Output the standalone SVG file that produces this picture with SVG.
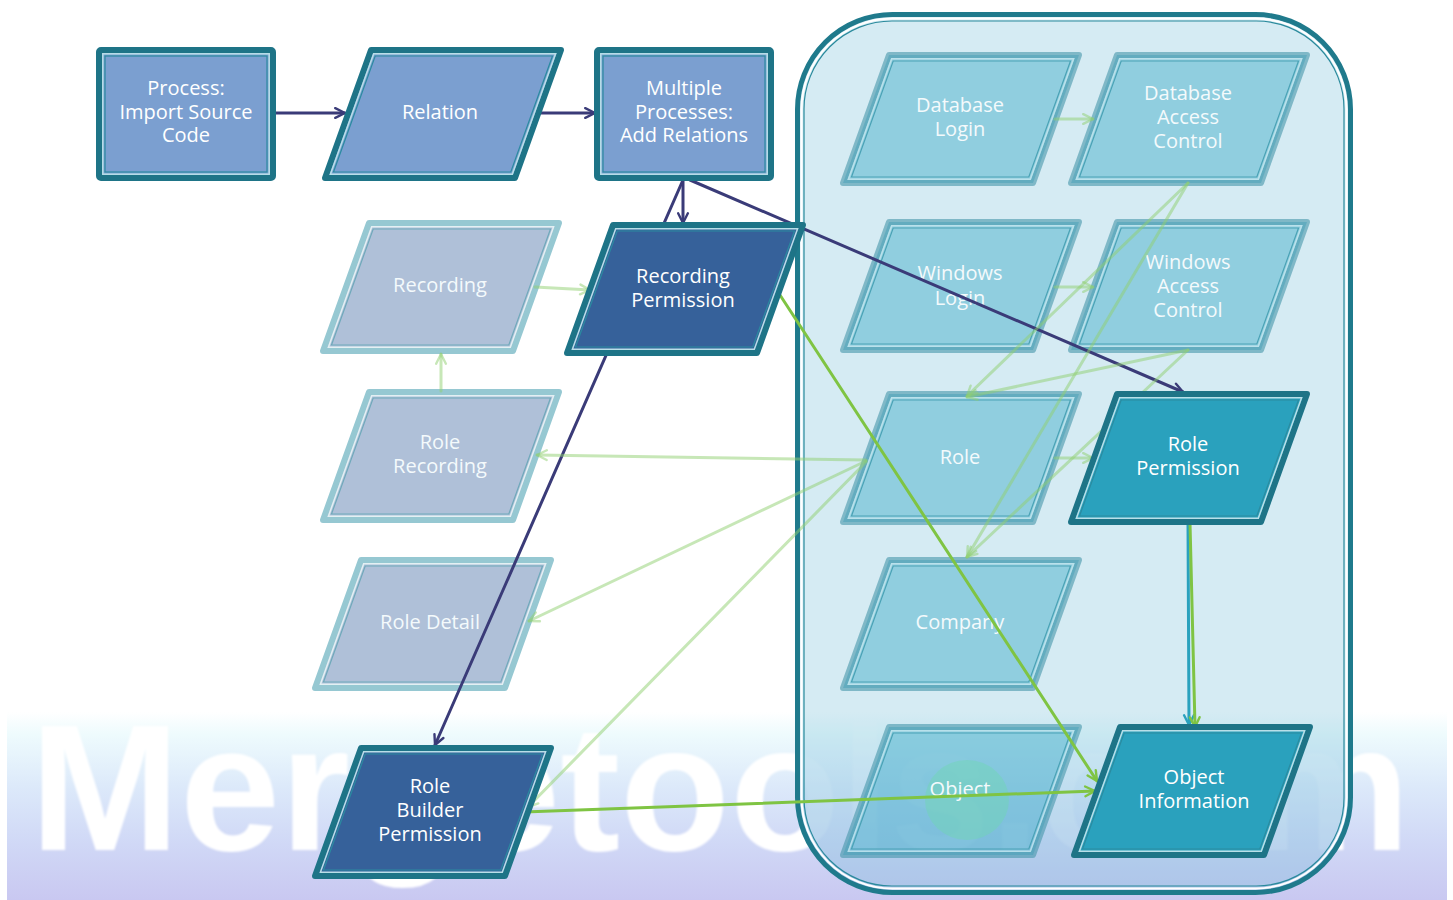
<svg xmlns="http://www.w3.org/2000/svg" xmlns:xlink="http://www.w3.org/1999/xlink" width="1453" height="900" viewBox="0 0 1453 900">
  <style>
    .lbl { font-family: "Open Sans", "Liberation Sans", sans-serif; font-size: 20px; fill: #ffffff; text-anchor: middle; }
    .wm { font-family: "Liberation Sans", Arial, sans-serif; font-weight: bold; font-size: 180px; fill: #ffffff; }
    .o { stroke-width: 6; stroke-linejoin: round; }
    .m { fill: none; stroke-width: 1.5; }
    .i { fill: none; stroke-width: 1.2; }
    .k-blue .o { fill: #7b9fd0; stroke: #1e7487; }
    .k-navy .o { fill: #36619a; stroke: #1e7487; }
    .k-teal .o { fill: #2aa1bd; stroke: #1e7487; }
    .k-blue .m, .k-navy .m, .k-teal .m { stroke: #b9dfe8; }
    .k-blue .i, .k-navy .i, .k-teal .i { stroke: #2a8ba0; }
    .k-grey .o { fill: #afc0d8; stroke: #96c8d2; }
    .k-grey .m { stroke: #e3f0f3; }
    .k-grey .i { stroke: #6fa9ba; }
    .k-aqua .o { fill: rgb(60,170,200); fill-opacity: 0.45; stroke: rgb(70,150,170); stroke-opacity: 0.6; }
    .k-aqua .m { stroke: #c4e6ee; stroke-opacity: 0.8; }
    .k-aqua .i { stroke: #4aa2b5; }
    .k-grey .lbl, .k-aqua .lbl { fill: #f4fafc; }
    .c { fill: none; stroke-width: 3; stroke-linecap: round; }
    .c-navy { stroke: #3a3b78; marker-end: url(#hNavy); }
    .c-green { stroke: #7fc443; marker-end: url(#hGreen); }
    .c-pale { stroke: #8fd070; stroke-opacity: 0.5; marker-end: url(#hPale); }
    .c-teal { stroke: #2aa1bd; marker-end: url(#hTeal); }
  </style>
  <defs>
    <linearGradient id="band" x1="0" y1="0" x2="0" y2="1">
      <stop offset="0" stop-color="#ffffff"/>
      <stop offset="0.12" stop-color="#eefbfd"/>
      <stop offset="0.4" stop-color="#dce9fa"/>
      <stop offset="0.7" stop-color="#d0d8f6"/>
      <stop offset="1" stop-color="#c9c8f1"/>
    </linearGradient>
    <filter id="soft" x="-5%" y="-10%" width="110%" height="120%">
      <feGaussianBlur stdDeviation="1.2"/>
    </filter>
    <!-- the site mark fades out behind the container -->
    <mask id="markMask" maskUnits="userSpaceOnUse" x="0" y="0" width="1453" height="900">
      <rect width="1453" height="900" fill="#ffffff"/>
      <rect x="797.5" y="14.5" width="553" height="878" rx="95" fill="#383838"/>
    </mask>
    <!-- parallelogram 190 wide, 128 high, slanted 46 px -->
    <polygon id="pO" points="46,0 236,0 190,128 0,128"/>
    <polygon id="pM" points="48.7,3.8 230.6,3.8 187.3,124.2 5.4,124.2"/>
    <polygon id="pI" points="50.2,6 227.5,6 185.8,122 8.5,122"/>
    <!-- process box 174 x 128 -->
    <rect id="rO" x="0" y="0" width="174" height="128" rx="2"/>
    <rect id="rM" x="3.8" y="3.8" width="166.4" height="120.4"/>
    <rect id="rI" x="6" y="6" width="162" height="116"/>
    <marker id="hNavy" viewBox="0 0 12 12" refX="10.5" refY="6" markerWidth="13" markerHeight="13" markerUnits="userSpaceOnUse" orient="auto">
      <path d="M1.5,1.5 L10.5,6 L1.5,10.5" fill="none" stroke="#3a3b78" stroke-width="2.2" stroke-linecap="round" stroke-linejoin="round"/>
    </marker>
    <marker id="hGreen" viewBox="0 0 12 12" refX="10.5" refY="6" markerWidth="13" markerHeight="13" markerUnits="userSpaceOnUse" orient="auto">
      <path d="M1.5,1.5 L10.5,6 L1.5,10.5" fill="none" stroke="#7fc443" stroke-width="2.2" stroke-linecap="round" stroke-linejoin="round"/>
    </marker>
    <marker id="hPale" viewBox="0 0 12 12" refX="10.5" refY="6" markerWidth="13" markerHeight="13" markerUnits="userSpaceOnUse" orient="auto">
      <path d="M1.5,1.5 L10.5,6 L1.5,10.5" fill="none" stroke="#8fd070" stroke-opacity="0.5" stroke-width="2.2" stroke-linecap="round" stroke-linejoin="round"/>
    </marker>
    <marker id="hTeal" viewBox="0 0 12 12" refX="10.5" refY="6" markerWidth="13" markerHeight="13" markerUnits="userSpaceOnUse" orient="auto">
      <path d="M1.5,1.5 L10.5,6 L1.5,10.5" fill="none" stroke="#2aa1bd" stroke-width="2.2" stroke-linecap="round" stroke-linejoin="round"/>
    </marker>
  </defs>

  <rect width="1453" height="900" fill="#ffffff"/>

  <!-- backdrop band with site mark -->
  <g id="backdrop">
    <rect x="7" y="712" width="1440" height="188" fill="url(#band)"/>
    <g mask="url(#markMask)">
      <text class="wm" x="30" y="850" filter="url(#soft)">Mergetools.com</text>
    </g>
  </g>

  <!-- access-control container -->
  <g id="container">
    <rect x="797.5" y="14.5" width="553" height="878" rx="95" fill="rgb(100,180,210)" fill-opacity="0.27" stroke="#1f7a8c" stroke-width="5"/>
    <rect x="801.5" y="18.5" width="545" height="870" rx="91" fill="none" stroke="#ffffff" stroke-width="2"/>
    <rect x="804" y="21" width="540" height="865" rx="88" fill="none" stroke="#2a8a9c" stroke-width="1.2"/>
  </g>

  <!-- secondary nodes -->
  <g id="recording" class="k-grey" transform="translate(323,223)">
    <use href="#pO" class="o"/><use href="#pM" class="m"/><use href="#pI" class="i"/>
    <text class="lbl" x="117" y="69">Recording</text>
  </g>
  <g id="role-recording" class="k-grey" transform="translate(323,392)">
    <use href="#pO" class="o"/><use href="#pM" class="m"/><use href="#pI" class="i"/>
    <text class="lbl" x="117" y="57">Role</text>
    <text class="lbl" x="117" y="81">Recording</text>
  </g>
  <g id="role-detail" class="k-grey" transform="translate(315,560)">
    <use href="#pO" class="o"/><use href="#pM" class="m"/><use href="#pI" class="i"/>
    <text class="lbl" x="115" y="69">Role Detail</text>
  </g>
  <g id="database-login" class="k-aqua" transform="translate(843,55)">
    <use href="#pO" class="o"/><use href="#pM" class="m"/><use href="#pI" class="i"/>
    <text class="lbl" x="117" y="57">Database</text>
    <text class="lbl" x="117" y="81">Login</text>
  </g>
  <g id="database-access-control" class="k-aqua" transform="translate(1071,55)">
    <use href="#pO" class="o"/><use href="#pM" class="m"/><use href="#pI" class="i"/>
    <text class="lbl" x="117" y="45">Database</text>
    <text class="lbl" x="117" y="69">Access</text>
    <text class="lbl" x="117" y="93">Control</text>
  </g>
  <g id="windows-login" class="k-aqua" transform="translate(843,222)">
    <use href="#pO" class="o"/><use href="#pM" class="m"/><use href="#pI" class="i"/>
    <text class="lbl" x="117" y="58">Windows</text>
    <text class="lbl" x="117" y="83">Login</text>
  </g>
  <g id="windows-access-control" class="k-aqua" transform="translate(1071,222)">
    <use href="#pO" class="o"/><use href="#pM" class="m"/><use href="#pI" class="i"/>
    <text class="lbl" x="117" y="47">Windows</text>
    <text class="lbl" x="117" y="71">Access</text>
    <text class="lbl" x="117" y="95">Control</text>
  </g>
  <g id="role" class="k-aqua" transform="translate(843,394)">
    <use href="#pO" class="o"/><use href="#pM" class="m"/><use href="#pI" class="i"/>
    <text class="lbl" x="117" y="70">Role</text>
  </g>
  <g id="company" class="k-aqua" transform="translate(843,560)">
    <use href="#pO" class="o"/><use href="#pM" class="m"/><use href="#pI" class="i"/>
    <text class="lbl" x="117" y="69">Company</text>
  </g>
  <g id="object" class="k-aqua" transform="translate(843,727)">
    <use href="#pO" class="o"/><use href="#pM" class="m"/><use href="#pI" class="i"/>
    <ellipse cx="124" cy="73" rx="42" ry="40" fill="#6fd6b2" fill-opacity="0.45"/>
    <text class="lbl" x="117" y="69">Object</text>
  </g>

  <!-- connectors -->
  <g id="connectors">
    <path id="e-process-relation" class="c c-navy" d="M275,113 L345,113"/>
    <path id="e-relation-multiple" class="c c-navy" d="M535,113 L595,113"/>
    <path id="e-multiple-recperm" class="c c-navy" d="M683,180 L683,223"/>
    <path id="e-multiple-rolebuilder" class="c c-navy" d="M683,180 L435,745"/>
    <path id="e-multiple-roleperm" class="c c-navy" d="M690,180 L1183,392"/>

    <path id="e-dblogin-dbac" class="c c-pale" d="M1055,119 L1093,119"/>
    <path id="e-winlogin-winac" class="c c-pale" d="M1055,287 L1093,287"/>
    <path id="e-recording-recperm" class="c c-pale" d="M535,287 L590,290"/>
    <path id="e-rolerec-recording" class="c c-pale" d="M441,391 L441,354"/>
    <path id="e-role-rolerec" class="c c-pale" d="M866,460 L537,455"/>
    <path id="e-role-roledetail" class="c c-pale" d="M866,461 L529,621"/>
    <path id="e-role-rolebuilder" class="c c-pale" d="M866,462 L528,807"/>
    <path id="e-role-roleperm" class="c c-pale" d="M1055,458 L1093,458"/>
    <path id="e-dbac-role" class="c c-pale" d="M1188,183 L967,396"/>
    <path id="e-dbac-company" class="c c-pale" d="M1188,183 L967,557"/>
    <path id="e-winac-role" class="c c-pale" d="M1188,350 L967,397"/>
    <path id="e-winac-company" class="c c-pale" d="M1188,350 L967,557"/>

    <path id="e-recperm-objinfo" class="c c-green" d="M778,292 L1097,781"/>
    <path id="e-rolebuilder-objinfo" class="c c-green" d="M524,812 L1095,791"/>
    <path id="e-roleperm-objinfo-a" class="c c-teal" d="M1188,523 L1189,725"/>
    <path id="e-roleperm-objinfo-b" class="c c-green" d="M1190,523 L1195,727"/>
  </g>

  <!-- primary nodes -->
  <g id="process-import" class="k-blue" transform="translate(99,50)">
    <use href="#rO" class="o"/><use href="#rM" class="m"/><use href="#rI" class="i"/>
    <text class="lbl" x="87" y="45">Process:</text>
    <text class="lbl" x="87" y="69">Import Source</text>
    <text class="lbl" x="87" y="92">Code</text>
  </g>
  <g id="relation" class="k-blue" transform="translate(325,50)">
    <use href="#pO" class="o"/><use href="#pM" class="m"/><use href="#pI" class="i"/>
    <text class="lbl" x="115" y="69">Relation</text>
  </g>
  <g id="multiple-processes" class="k-blue" transform="translate(597,50)">
    <use href="#rO" class="o"/><use href="#rM" class="m"/><use href="#rI" class="i"/>
    <text class="lbl" x="87" y="45">Multiple</text>
    <text class="lbl" x="87" y="69">Processes:</text>
    <text class="lbl" x="87" y="92">Add Relations</text>
  </g>
  <g id="recording-permission" class="k-navy" transform="translate(567,225)">
    <use href="#pO" class="o"/><use href="#pM" class="m"/><use href="#pI" class="i"/>
    <text class="lbl" x="116" y="58">Recording</text>
    <text class="lbl" x="116" y="82">Permission</text>
  </g>
  <g id="role-builder-permission" class="k-navy" transform="translate(315,748)">
    <use href="#pO" class="o"/><use href="#pM" class="m"/><use href="#pI" class="i"/>
    <text class="lbl" x="115" y="45">Role</text>
    <text class="lbl" x="115" y="69">Builder</text>
    <text class="lbl" x="115" y="93">Permission</text>
  </g>
  <g id="role-permission" class="k-teal" transform="translate(1071,394)">
    <use href="#pO" class="o"/><use href="#pM" class="m"/><use href="#pI" class="i"/>
    <text class="lbl" x="117" y="57">Role</text>
    <text class="lbl" x="117" y="81">Permission</text>
  </g>
  <g id="object-information" class="k-teal" transform="translate(1074,727)">
    <use href="#pO" class="o"/><use href="#pM" class="m"/><use href="#pI" class="i"/>
    <text class="lbl" x="120" y="57">Object</text>
    <text class="lbl" x="120" y="81">Information</text>
  </g>
</svg>
